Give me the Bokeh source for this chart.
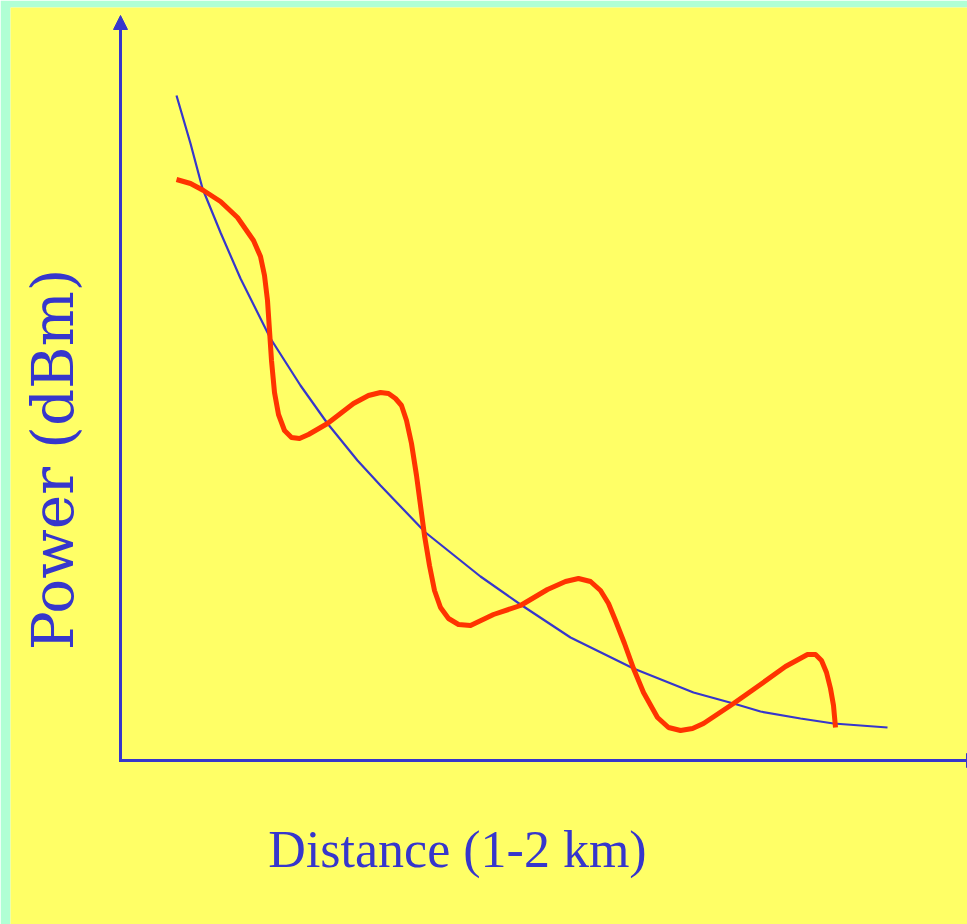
import numpy as np
from bokeh.plotting import figure
from bokeh.models import Range1d, Arrow, NormalHead, Label
from bokeh.embed import file_html
from bokeh.resources import INLINE

# ---- data (distance in km, power in dBm) ----
trend_km = [1.07, 1.0875, 1.1025, 1.125, 1.15, 1.1875, 1.225, 1.25875, 1.29625,
            1.325, 1.38125, 1.45, 1.5, 1.5625, 1.64125, 1.71625, 1.76625, 1.8,
            1.85, 1.89125, 1.95875]
trend_dbm = [-1.75, -4.15, -6.4, -8.6, -10.9, -13.9, -16.25, -18.15, -20.0,
             -21.25, -23.6, -25.8, -27.2, -28.85, -30.4, -31.6, -32.15, -32.55,
             -32.9, -33.15, -33.35]

meas_km = [1.07, 1.0875, 1.10375, 1.125, 1.14625, 1.16625, 1.175, 1.18, 1.18375,
           1.18625, 1.18875, 1.1925, 1.1975, 1.205, 1.21375, 1.22375, 1.235,
           1.25875, 1.29125, 1.31, 1.325, 1.335, 1.34375, 1.35125, 1.3575,
           1.36375, 1.37, 1.375, 1.38, 1.38625, 1.3925, 1.4, 1.41, 1.4225,
           1.4375, 1.46625, 1.5, 1.53375, 1.55625, 1.5725, 1.5875, 1.6, 1.61,
           1.61875, 1.63, 1.64125, 1.65375, 1.67125, 1.685, 1.7, 1.715, 1.72875,
           1.76625, 1.8, 1.83125, 1.85875, 1.86875, 1.87625, 1.8825, 1.8875,
           1.89125, 1.89375]
meas_dbm = [-5.95, -6.15, -6.5, -7.05, -7.85, -9.0, -9.8, -10.75, -12.0,
            -13.5, -15.0, -16.6, -17.7, -18.5, -18.85, -18.9, -18.7,
            -18.15, -17.15, -16.75, -16.6, -16.65, -16.9, -17.25, -18.0,
            -19.15, -20.75, -22.25, -23.75, -25.25, -26.5, -27.35, -27.9, -28.2,
            -28.25, -27.7, -27.25, -26.45, -26.05, -25.9, -26.05, -26.5, -27.15,
            -28.0, -29.15, -30.4, -31.6, -32.85, -33.35, -33.5, -33.4, -33.15,
            -32.15, -31.2, -30.3, -29.7, -29.7, -30.0, -30.6, -31.4,
            -32.25, -33.35]

axis_origin = (1.0, -35.0)
y_axis_top = 2.25
x_axis_end = 2.075

x_title = "Distance (1-2 km)"
y_title = "Power (dBm)"

BLUE = "#3636CC"
RED = "#FF3300"
YELLOW = "#FFFF66"
GREEN = "#B0FFD4"

p = figure(width=967, height=924, output_backend="svg", toolbar_location=None,
           x_axis_type=None, y_axis_type=None,
           x_range=Range1d(0.8625, 2.05875), y_range=Range1d(-43.2, 2.65),
           min_border_left=10, min_border_top=7, min_border_right=0,
           min_border_bottom=0, background_fill_color=YELLOW,
           border_fill_color=GREEN, outline_line_color=None)

# axes as arrows
p.add_layout(Arrow(x_start=axis_origin[0], y_start=axis_origin[1],
                   x_end=axis_origin[0], y_end=y_axis_top,
                   line_color=BLUE, line_width=3, line_cap="square",
                   end=NormalHead(size=14, fill_color=BLUE, line_color=BLUE)))
p.add_layout(Arrow(x_start=axis_origin[0], y_start=axis_origin[1],
                   x_end=x_axis_end, y_end=axis_origin[1],
                   line_color=BLUE, line_width=3, line_cap="square",
                   end=NormalHead(size=14, fill_color=BLUE, line_color=BLUE)))

p.line(trend_km, trend_dbm, line_color=BLUE, line_width=2.2)
p.line(meas_km, meas_dbm, line_color=RED, line_width=5, line_join="round")

p.add_layout(Label(x=1.42125, y=-39.45, text=x_title, text_align="center",
                   text_baseline="alphabetic", text_font="Liberation Serif",
                   text_font_size="52px", text_color=BLUE))
p.add_layout(Label(x=0.915, y=-19.95, text=y_title, angle=np.pi / 2,
                   text_align="center", text_baseline="alphabetic",
                   text_font="DejaVu Serif", text_font_size="58px",
                   text_color=BLUE))

html = file_html(p, INLINE)
html = html.replace("</head>", "<style>html,body{margin:0;padding:0;overflow:hidden}</style></head>", 1)
open("out.html", "w").write(html)
